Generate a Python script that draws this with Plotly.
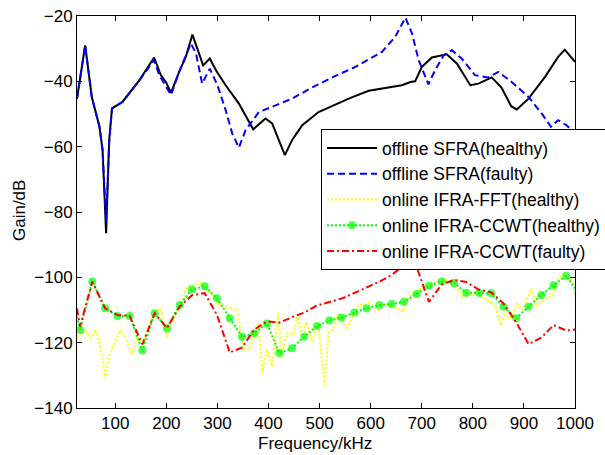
import plotly.graph_objects as go

# ---------------- data ----------------
sfra_h_f = [25, 41, 54, 69, 75, 82, 88, 93.5, 114, 147, 176, 189, 199, 209, 225, 238, 251, 261, 272, 285,
            297, 316, 342, 370, 394, 407, 432, 446, 466, 498, 518, 557, 596, 661, 678, 687, 700, 720, 749,
            769, 795, 811, 837, 856, 875, 886, 909, 941, 967, 980, 1000]
sfra_h_g = [-45.3, -29.0, -44.8, -53.9, -61, -86.5, -58, -48.3, -46.3, -39.7, -32.7, -38.1, -40.2, -43.5,
            -37.1, -32.5, -25.7, -30.5, -35.1, -33.0, -36.6, -41.2, -46.8, -54.7, -51.4, -52.9, -62.6, -58.0,
            -53.4, -49.4, -48.0, -45.3, -42.9, -41.2, -40.2, -40, -35.6, -32.7, -31.7, -34.6, -41.2, -40.7,
            -38.8, -41.9, -47.6, -48.6, -45.3, -38.7, -32.5, -30.3, -34]

sfra_f_f = [25, 41, 54, 69, 75, 82, 88, 93.5, 114, 147, 176, 186, 209, 225, 248, 258, 270, 285, 300, 316,
            329, 342, 355, 381, 407, 446, 485, 534, 570, 622, 648, 668, 681, 694, 713, 726, 743, 759, 778,
            804, 830, 850, 876, 909, 935, 953, 967, 983, 1000]
sfra_f_g = [-45.3, -29.0, -44.8, -53.9, -61, -83, -59, -48.3, -46.3, -39.7, -33.5, -38.1, -44.2, -37.1,
            -28.4, -31.5, -40.7, -36.1, -41.2, -48.8, -56.0, -60.3, -55, -49.4, -47.8, -45.3, -41.9, -38.1,
            -35.6, -31.0, -26.4, -20.5, -25.4, -33.5, -40.9, -36.6, -32.0, -30.5, -33.0, -38.1, -38.8, -37.1,
            -40.2, -44.8, -49.9, -53.9, -51.9, -53.4, -56]

fft_f = [25, 41, 51, 61, 71, 80.5, 87, 100, 110, 119.5, 132.6, 142, 155, 175, 188, 201, 217, 233, 240, 253,
         266, 287, 306, 316, 339, 350, 362, 380, 388, 397, 407, 419, 425, 436, 450, 456, 466, 474, 485, 497,
         510, 517, 528, 537, 554, 576, 596, 616, 628, 664, 671, 681, 710, 743, 772, 778, 808, 843, 854, 861,
         873, 887, 896, 915, 925, 957, 967, 980, 993, 1000]
fft_g = [-118.2, -116.1, -118.7, -115.9, -121.7, -130.9, -124.3, -119.7, -116.1, -118.2, -123.8, -118.7,
         -119.7, -111.0, -109.5, -118.2, -111.5, -105.9, -102.9, -102.4, -101.8, -104.9, -108.9, -109,
         -110.0, -122.0, -122.2, -113.9, -128.9, -122.2, -127.3, -110.5, -124.3, -117.1, -117.6, -112.0,
         -118.2, -113.6, -119.7, -114.1, -132.9, -117.1, -115.6, -111.0, -115.6, -108.5, -107.9, -110,
         -107.9, -110.5, -107.5, -104.9, -102.4, -100.3, -103.9, -106, -104.9, -108.5, -114.6, -111.5,
         -112.5, -108, -110, -103.4, -108.5, -105.4, -100.3, -99.3, -100.8, -102]

ccwt_f = [25, 31, 55, 80, 104, 128, 153, 177, 201, 226, 250, 275, 299, 324, 348, 372, 397, 421, 446, 470,
          495, 519, 543, 568, 592, 617, 641, 665, 690, 714, 739, 763, 787, 812, 836, 860, 885, 909, 934,
          958, 983, 1007]
ccwt_h_g = [-112, -116.1, -101.3, -109.5, -111.8, -111.8, -122.4, -111, -115.6, -108.5, -103.7, -102.7,
            -106.4, -112.5, -118.2, -117.1, -114.1, -123.2, -121.7, -118.2, -114.9, -113.2, -112.3, -110.8,
            -109.5, -108.5, -108.2, -107.5, -105.1, -102.6, -101.3, -101.7, -104.7, -104.7, -104.9, -109.0,
            -112.5, -109.0, -105.4, -102.4, -99.5, -105]
ccwt_f_g = [-109.5, -115, -101.3, -109.5, -111.5, -111.8, -120.5, -111, -115.5, -109, -105.5, -104.8,
            -111.5, -123, -121.5, -116, -113.5, -113.9, -112.2, -110.8, -108.6, -107.6, -106.5, -104.8,
            -103.1, -101.3, -99.3, -96.3, -96.8, -107.5, -102.2, -100.8, -101.4, -103.8, -104.6, -108,
            -113.8, -120.4, -118.5, -114.6, -116.3, -115.8]

names = ["offline SFRA(healthy)", "offline SFRA(faulty)", "online IFRA-FFT(healthy)",
         "online IFRA-CCWT(healthy)", "online IFRA-CCWT(faulty)"]
x_ticks = [100, 200, 300, 400, 500, 600, 700, 800, 900, 1000]
y_ticks = [-140, -120, -100, -80, -60, -40, -20]

FONT = "Liberation Sans, Arial, sans-serif"

fig = go.Figure()
fig.add_trace(go.Scatter(x=sfra_h_f, y=sfra_h_g, mode="lines", name=names[0],
                         line=dict(color="#000000", width=2)))
fig.add_trace(go.Scatter(x=sfra_f_f, y=sfra_f_g, mode="lines", name=names[1],
                         line=dict(color="#0000FF", width=2, dash="7px,4px")))
fig.add_trace(go.Scatter(x=fft_f, y=fft_g, mode="lines", name=names[2],
                         line=dict(color="#FFFF00", width=2, dash="2px,2px")))
sizes = [0] + [8] * (len(ccwt_f) - 1)
fig.add_trace(go.Scatter(x=ccwt_f, y=ccwt_h_g, mode="lines+markers", name=names[3],
                         line=dict(color="#00FF00", width=2, dash="2px,2px"),
                         marker=dict(color="#00FF00", size=sizes, line=dict(width=0))))
fig.add_trace(go.Scatter(x=ccwt_f, y=ccwt_f_g, mode="lines", name=names[4],
                         line=dict(color="#FF0000", width=2, dash="7px,3px,2px,3px")))

axis_common = dict(showline=True, linecolor="black", linewidth=1, mirror="allticks",
                   ticks="inside", ticklen=5, tickcolor="black", showgrid=False, zeroline=False,
                   tickfont=dict(family=FONT, size=17, color="black"))

fig.update_layout(
    width=605, height=455,
    margin=dict(l=77, r=30, t=16, b=47, autoexpand=False),
    paper_bgcolor="white", plot_bgcolor="white",
    font=dict(family=FONT, size=17, color="black"),
    xaxis=dict(range=[25, 1000], tickvals=x_ticks, **axis_common),
    yaxis=dict(range=[-140, -20], tickvals=y_ticks, **axis_common),
    legend=dict(x=0.49, y=0.7117, xanchor="left", yanchor="top",
                bgcolor="white", bordercolor="black", borderwidth=1,
                font=dict(family=FONT, size=17.5, color="black"),
                itemwidth=50, tracegroupgap=0),
    annotations=[
        dict(text="Frequency/kHz", xref="paper", yref="paper", x=0.478, y=-0.0893,
             xanchor="center", yanchor="middle", showarrow=False,
             font=dict(family=FONT, size=17, color="black")),
        dict(text="Gain/dB", xref="paper", yref="paper", x=-0.1165, y=0.505, textangle=-90,
             xanchor="center", yanchor="middle", showarrow=False,
             font=dict(family=FONT, size=17, color="black")),
    ],
    showlegend=True,
)

fig.write_html("out.html")
